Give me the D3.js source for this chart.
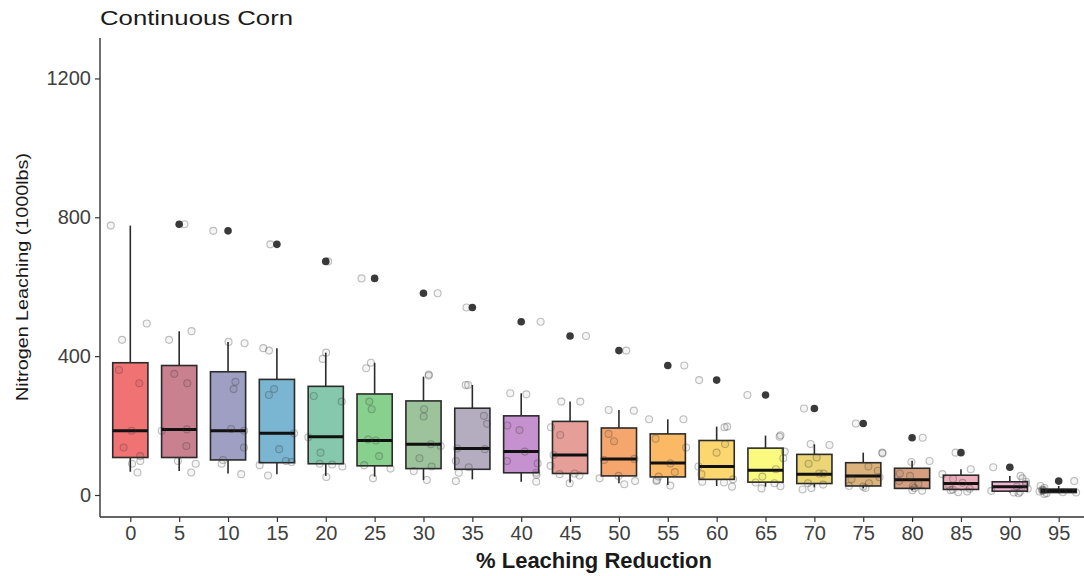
<!DOCTYPE html>
<html>
<head>
<meta charset="utf-8">
<script src="https://cdn.jsdelivr.net/npm/d3@7/dist/d3.min.js"></script>
<style>
  html, body { margin: 0; padding: 0; background: #fff; }
  svg { display: block; }
  text { font-family: "Liberation Sans", Arial, sans-serif; }
</style>
</head>
<body>
<svg id="chart" width="1084" height="576"></svg>
<script>
// % leaching reduction scenarios
const categories = [0, 5, 10, 15, 20, 25, 30, 35, 40, 45, 50, 55, 60, 65, 70, 75, 80, 85, 90, 95];

// Box statistics per scenario (1000 lbs)
const whiskerLow  = [67, 69, 62, 60, 55, 53, 43, 45, 38, 36, 34, 29, 26, 24, 22, 19, 14, 14, 7, 5];
const q1          = [108, 108, 101, 93, 90, 84, 76, 74, 64, 62, 55, 52, 45, 37, 33, 26, 19, 16, 11, 7];
const median      = [185, 189, 185, 178, 168, 157, 146, 134, 125, 115, 104, 92, 82, 71, 60, 55, 44, 33, 24, 12];
const q3          = [381, 373, 355, 333, 313, 291, 271, 250, 228, 212, 193, 176, 157, 135, 117, 93, 77, 57, 38, 17];
const whiskerHigh = [776, 472, 441, 423, 410, 381, 341, 317, 293, 269, 245, 218, 197, 171, 146, 122, 99, 74, 55, 26];
const outliers    = [null, 780, 761, 722, 673, 624, 581, 540, 499, 458, 416, 373, 331, 288, 249, 206, 165, 122, 80, 40];

// Individual observations per scenario
const observations = [
  [776, 494, 447, 360, 322, 185, 137, 112, 98, 90, 65],
  [780, 472, 447, 349, 322, 189, 185, 141, 98, 90, 65],
  [761, 441, 437, 326, 305, 190, 185, 137, 101, 90, 60],
  [722, 423, 416, 305, 288, 178, 132, 98, 95, 86, 56],
  [673, 410, 392, 285, 269, 166, 122, 90, 88, 82, 52],
  [624, 381, 365, 269, 247, 160, 157, 112, 86, 76, 48],
  [581, 347, 344, 247, 226, 146, 141, 106, 82, 69, 43],
  [540, 317, 317, 228, 205, 134, 132, 98, 80, 64, 40],
  [499, 293, 290, 200, 187, 125, 98, 91, 64, 58, 38],
  [458, 269, 269, 195, 173, 115, 84, 62, 60, 56, 34],
  [416, 245, 243, 176, 155, 104, 101, 55, 48, 40, 31],
  [373, 218, 218, 162, 137, 91, 66, 53, 43, 40, 27],
  [331, 197, 195, 147, 122, 82, 60, 45, 38, 36, 24],
  [288, 172, 168, 125, 106, 74, 53, 36, 34, 25, 19],
  [249, 147, 144, 108, 90, 62, 62, 34, 30, 20, 16],
  [206, 122, 120, 82, 70, 51, 45, 34, 26, 24, 20],
  [165, 98, 95, 62, 55, 40, 32, 25, 20, 14, 12],
  [122, 74, 60, 47, 35, 25, 18, 16, 14, 10, 8],
  [80, 55, 48, 38, 32, 24, 18, 12, 9, 7, 5],
  [40, 26, 20, 16, 14, 12, 10, 8, 7, 5, 3]
];

const fills = [
  "#f07272", "#c9808f", "#9e9fc2", "#7ab5d1", "#86c8ad",
  "#88d08e", "#9cc39c", "#b4adbf", "#c691cf", "#e69e98",
  "#f5a66d", "#fbb865", "#fcd66f", "#fbfa80", "#ebd574",
  "#dcb27c", "#d6a080", "#eeb0bd", "#f2b2d2", "#c8c8c8"
];

const yTicks = [0, 400, 800, 1200];

const svg = d3.select("#chart");

const x = d3.scalePoint().domain(categories).range([101, 1088]).padding(0.6);
const y = d3.scaleLinear().domain([-63.4, 1316.5]).range([517, 38]);
const boxW = x.step() * 0.72;
const jitterW = x.step() * 0.4;

// deterministic jitter for the observation layer
let seed = 7;
function rand() {
  seed = (seed * 16807) % 2147483647;
  return (seed - 1) / 2147483646;
}

// axes
const yAxis = svg.append("g")
  .attr("transform", "translate(100,0)")
  .call(d3.axisLeft(y).tickValues(yTicks).tickFormat(d3.format("d")).tickSize(5).tickPadding(4));
const xAxis = svg.append("g")
  .attr("transform", "translate(0,517)")
  .call(d3.axisBottom(x).tickSize(5).tickPadding(4));

[yAxis, xAxis].forEach(g => {
  g.select(".domain").attr("stroke", "#333").attr("stroke-width", 1.4);
  g.selectAll(".tick line").attr("stroke", "#333").attr("stroke-width", 1.2);
  g.selectAll(".tick text")
    .attr("fill", "#404040")
    .style("font-size", "20px")
    .style("font-family", "'Liberation Sans', Arial, sans-serif");
});
xAxis.select(".domain").attr("d", "M100,0H1084");
yAxis.select(".domain").attr("d", "M0,517V38");

// boxes
const groups = svg.append("g").selectAll("g")
  .data(categories)
  .join("g")
  .attr("transform", d => `translate(${x(d)},0)`);

groups.append("line")
  .attr("x1", 0).attr("x2", 0)
  .attr("y1", (d, i) => y(q3[i])).attr("y2", (d, i) => y(whiskerHigh[i]))
  .attr("stroke", "#2b2b2b").attr("stroke-width", 1.6);
groups.append("line")
  .attr("x1", 0).attr("x2", 0)
  .attr("y1", (d, i) => y(q1[i])).attr("y2", (d, i) => y(whiskerLow[i]))
  .attr("stroke", "#2b2b2b").attr("stroke-width", 1.6);
groups.append("rect")
  .attr("x", -boxW / 2).attr("width", boxW)
  .attr("y", (d, i) => y(q3[i]))
  .attr("height", (d, i) => y(q1[i]) - y(q3[i]))
  .attr("fill", (d, i) => fills[i])
  .attr("stroke", "#2b2b2b").attr("stroke-width", 1.6);
groups.append("line")
  .attr("x1", -boxW / 2).attr("x2", boxW / 2)
  .attr("y1", (d, i) => y(median[i])).attr("y2", (d, i) => y(median[i]))
  .attr("stroke", "#111").attr("stroke-width", 3);

// outliers
groups.filter((d, i) => outliers[i] !== null)
  .append("circle")
  .attr("cx", 0)
  .attr("cy", d => y(outliers[categories.indexOf(d)]))
  .attr("r", 3.8)
  .attr("fill", "#3a3a3a");

// jittered observations
const obs = [];
categories.forEach((c, i) => {
  observations[i].forEach(v => obs.push({ c, v, dx: (rand() * 2 - 1) * jitterW }));
});
svg.append("g").selectAll("circle")
  .data(obs)
  .join("circle")
  .attr("cx", d => x(d.c) + d.dx)
  .attr("cy", d => y(d.v))
  .attr("r", 3.5)
  .attr("fill", "rgba(0,0,0,0.04)")
  .attr("stroke", "rgba(60,60,60,0.32)")
  .attr("stroke-width", 1.1);

// titles
svg.append("text")
  .attr("x", 100).attr("y", 25)
  .attr("fill", "#1a1a1a")
  .style("font-size", "21px")
  .attr("textLength", 193).attr("lengthAdjust", "spacingAndGlyphs")
  .text("Continuous Corn");

svg.append("text")
  .attr("x", 594).attr("y", 568)
  .attr("text-anchor", "middle")
  .attr("fill", "#1a1a1a")
  .style("font-size", "22px").style("font-weight", "bold")
  .text("% Leaching Reduction");

svg.append("text")
  .attr("transform", "translate(28,277) rotate(-90)")
  .attr("text-anchor", "middle")
  .attr("fill", "#1a1a1a")
  .style("font-size", "17px")
  .attr("textLength", 248).attr("lengthAdjust", "spacingAndGlyphs")
  .text("Nitrogen Leaching (1000lbs)");
</script>
</body>
</html>
